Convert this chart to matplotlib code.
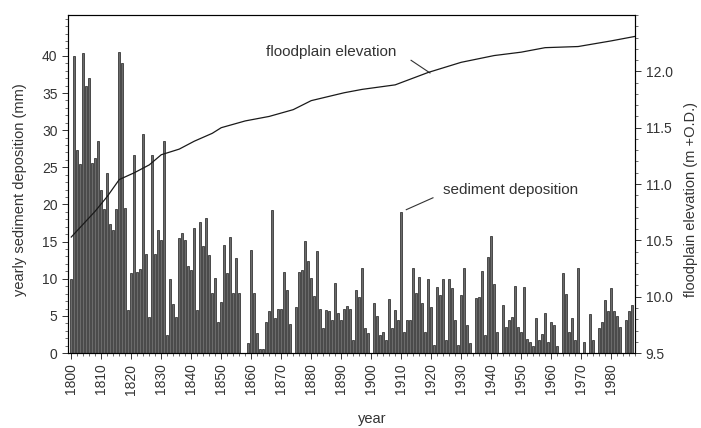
import numpy as np
import matplotlib
matplotlib.use("Agg")
import matplotlib.pyplot as plt
from matplotlib.ticker import MultipleLocator, FixedLocator, FormatStrFormatter

plt.rcParams['font.family'] = ['Liberation Sans', 'DejaVu Sans']

# yearly sediment deposition (mm), one value per year from 1800
years = np.arange(1800, 1988)
deposition = [
    10, 40, 27.3, 25.4, 40.4, 35.9, 37, 25.6, 26.3, 28.6,          # 1800s
    22, 19.4, 24.2, 17.4, 16.5, 19.4, 40.5, 39, 19.5, 5.8,         # 1810s
    10.8, 26.6, 10.9, 11.3, 29.5, 13.4, 4.8, 26.6, 13.3, 16.5,     # 1820s
    15.2, 28.6, 2.4, 10, 6.6, 4.8, 15.5, 16.1, 15.2, 11.7,         # 1830s
    11.2, 16.8, 5.8, 17.6, 14.4, 18.2, 13.2, 8.1, 10.1, 4.2,       # 1840s
    6.9, 14.5, 10.8, 15.6, 8.1, 12.8, 8.1, 0, 0, 1.3,              # 1850s
    13.9, 8.1, 2.7, 0.5, 0.6, 4.2, 5.6, 19.2, 4.7, 5.9,            # 1860s
    5.9, 10.9, 8.5, 3.9, 0, 6.2, 10.9, 11.2, 15.1, 12.4,           # 1870s
    10.1, 7.7, 13.8, 6, 3.4, 5.8, 5.6, 4.4, 9.4, 5.4,              # 1880s
    4.4, 5.9, 6.4, 5.9, 1.7, 8.5, 7.5, 11.4, 3.4, 2.7,             # 1890s
    0, 6.8, 5, 2.4, 2.9, 1.7, 7.3, 3.4, 5.8, 4.4,                  # 1900s
    19, 2.9, 4.4, 4.4, 11.4, 8.1, 10.3, 6.7, 2.9, 10,              # 1910s
    6.2, 1.1, 8.9, 7.8, 10, 1.7, 10, 8.7, 4.4, 1.1,                # 1920s
    7.8, 11.4, 3.8, 1.3, 0, 7.4, 7.5, 11.1, 2.4, 12.9,             # 1930s
    15.7, 9.3, 2.9, 0, 6.5, 3.5, 4.4, 4.8, 9, 3.5,                 # 1940s
    2.8, 8.9, 1.9, 1.5, 0.9, 4.7, 1.7, 2.6, 5.4, 1.5,              # 1950s
    4.2, 3.8, 0.9, 0, 10.8, 7.9, 2.9, 4.7, 1.7, 11.4,              # 1960s
    0, 1.5, 0, 5.2, 1.7, 0, 3.4, 4.2, 7.1, 5.6,                    # 1970s
    8.8, 5.6, 5, 3.5, 0, 4.4, 5.6, 6.5,                            # 1980s
]

# floodplain elevation (m +O.D.)
elev_years = [1800, 1808, 1812, 1816, 1821, 1826, 1830, 1836, 1841, 1847,
              1850, 1858, 1866, 1874, 1880, 1891, 1897, 1908, 1919, 1930,
              1941, 1950, 1958, 1969, 1980, 1988]
elevation = [10.53, 10.76, 10.89, 11.04, 11.10, 11.17, 11.26, 11.31, 11.38, 11.45,
             11.50, 11.56, 11.60, 11.66, 11.74, 11.81, 11.84, 11.88, 11.99, 12.08,
             12.14, 12.17, 12.21, 12.22, 12.27, 12.31]

decade_ticks = list(range(1800, 1990, 10))
dep_ticks = [0, 5, 10, 15, 20, 25, 30, 35, 40]
elev_ticks = [9.5, 10.0, 10.5, 11.0, 11.5, 12.0]

txt = '#333333'
fig = plt.figure(figsize=(7.01, 4.28), dpi=100)
ax = fig.add_axes([0.097, 0.175, 0.809, 0.79])

ax.bar(years, deposition, width=0.72, color='#6b6b6b', edgecolor='#1e1e1e', linewidth=0.5)
ax.set_xlim(1798.9, 1988.0)
ax.set_ylim(0, 45.5)
ax.set_xticks(decade_ticks)
ax.set_xticklabels([str(t) for t in decade_ticks], rotation=90)
ax.xaxis.set_minor_locator(MultipleLocator(2))
ax.yaxis.set_major_locator(FixedLocator(dep_ticks))
ax.yaxis.set_minor_locator(MultipleLocator(1))
ax.tick_params(axis='both', which='major', labelsize=10, colors=txt, length=4, width=0.7)
ax.tick_params(axis='both', which='minor', length=2, width=0.5, colors=txt)
for s in ax.spines.values():
    s.set_linewidth(0.8)
    s.set_color('#333333')

ax2 = ax.twinx()
ax2.plot(elev_years, elevation, color='#1a1a1a', linewidth=0.9)
ax2.set_ylim(9.5, 12.5)
ax2.yaxis.set_major_locator(FixedLocator(elev_ticks))
ax2.yaxis.set_minor_locator(MultipleLocator(0.1))
ax2.yaxis.set_major_formatter(FormatStrFormatter('%.1f'))
ax2.tick_params(axis='y', which='major', labelsize=10, colors=txt, length=4, width=0.7)
ax2.tick_params(axis='y', which='minor', length=2, width=0.5, colors=txt)

# annotations
ax.text(1865, 40.5, 'floodplain elevation', fontsize=11, color=txt, va='center')
ax.plot([1913.3, 1919.6], [39.4, 37.7], color='#333333', linewidth=0.8)
ax.text(1923.9, 22.0, 'sediment deposition', fontsize=11, color=txt, va='center')
ax.plot([1920.6, 1911.7], [20.9, 19.3], color='#333333', linewidth=0.8)

fig.text(0.029, 0.556, 'yearly sediment deposition (mm)', rotation=90,
         ha='center', va='center', fontsize=10.5, color=txt)
fig.text(0.986, 0.535, 'floodplain elevation (m +O.D.)', rotation=90,
         ha='center', va='center', fontsize=10.5, color=txt)
fig.text(0.531, 0.02, 'year', ha='center', va='center', fontsize=10.5, color=txt)

fig.savefig('out.png', dpi=100)
